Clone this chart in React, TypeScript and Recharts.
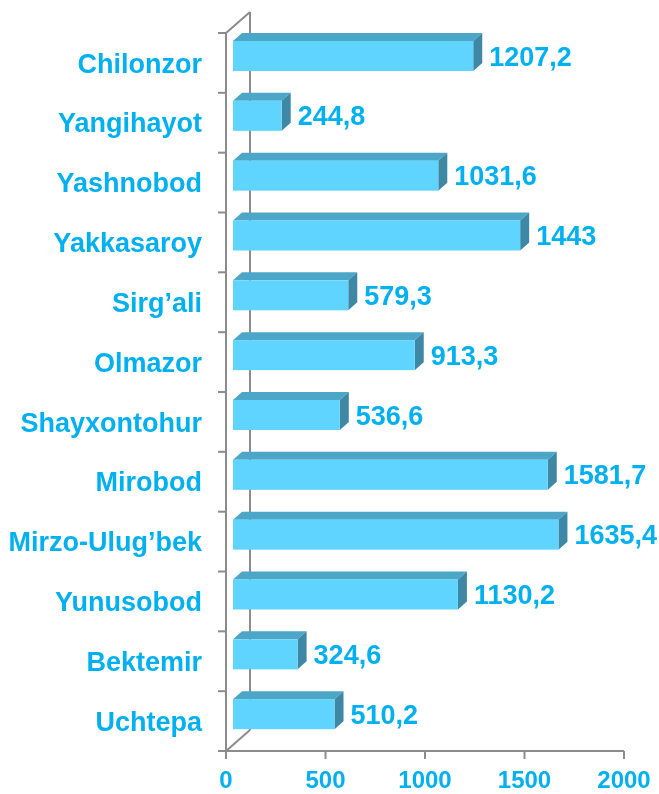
import { BarChart, Bar, XAxis, YAxis, CartesianGrid, LabelList } from "recharts";

const districts = [
  "Chilonzor",
  "Yangihayot",
  "Yashnobod",
  "Yakkasaroy",
  "Sirg’ali",
  "Olmazor",
  "Shayxontohur",
  "Mirobod",
  "Mirzo-Ulug’bek",
  "Yunusobod",
  "Bektemir",
  "Uchtepa",
];
const values = [1207.2, 244.8, 1031.6, 1443, 579.3, 913.3, 536.6, 1581.7, 1635.4, 1130.2, 324.6, 510.2];
const xTicks = [0, 500, 1000, 1500, 2000];

const data = districts.map((name, i) => ({ name, value: values[i] }));

const CYAN = "#00B0F0";
const GREY = "#8c8c8c";
const FONT = '"Liberation Sans", Arial, sans-serif';

// pseudo-3D geometry (px)
const BAR_SHIFT = 7; // bars stand a little back from the front plane
const BAR_DX = 9;
const BAR_DY = 8;
const WALL_DX = 24;
const WALL_DY = 21;
const TICK = 8;
const Y_MARGIN = 16;

const formatValue = (v: number) => String(v).replace(".", ",");

function Bar3D(props: any) {
  const { x, y, width, height } = props;
  if (width == null || height == null) return null;
  const fx = x + BAR_SHIFT;
  const fy = y - BAR_SHIFT;
  const r = fx + width;
  const top = `${fx},${fy} ${fx + BAR_DX},${fy - BAR_DY} ${r + BAR_DX},${fy - BAR_DY} ${r},${fy}`;
  const side = `${r},${fy} ${r + BAR_DX},${fy - BAR_DY} ${r + BAR_DX},${fy + height - BAR_DY} ${r},${fy + height}`;
  return (
    <g>
      <polygon points={top} fill="#4BA6C7" />
      <polygon points={side} fill="#3E88A6" />
      <rect x={fx} y={fy} width={width} height={height} fill="#5ED4FE" />
    </g>
  );
}

function renderValue(props: any) {
  const box = props.viewBox ?? props;
  const { x, y, width, height } = box;
  return (
    <text
      x={x + width + BAR_SHIFT + 16}
      y={y + height / 2 - BAR_SHIFT}
      dy="0.355em"
      fill={CYAN}
      fontFamily={FONT}
      fontWeight="bold"
      fontSize={27}
    >
      {formatValue(props.value)}
    </text>
  );
}

function CategoryTick(props: any) {
  const { x, y, payload, index, visibleTicksCount } = props;
  const half = payload?.offset || 29.9;
  const axisX = x + TICK + Y_MARGIN;
  const last = index === (visibleTicksCount ?? districts.length) - 1;
  return (
    <g>
      <line x1={axisX - TICK} x2={axisX} y1={y - half} y2={y - half} stroke={GREY} strokeWidth={2} />
      {last && <line x1={axisX - TICK} x2={axisX} y1={y + half} y2={y + half} stroke={GREY} strokeWidth={2} />}
      <text x={x} y={y} dy="0.355em" textAnchor="end" fill={CYAN} fontFamily={FONT} fontWeight="bold" fontSize={27}>
        {payload.value}
      </text>
    </g>
  );
}

// back wall of the 3D frame, drawn under the bars
function renderWall(p: any) {
  if (p.index !== 0) return <g key={p.key} />;
  const { x1, y1, y2 } = p;
  const bx = x1 + WALL_DX;
  return (
    <g key={p.key} stroke={GREY} strokeWidth={2} fill="none">
      <line x1={x1} y1={y1} x2={bx} y2={y1 - WALL_DY} />
      <line x1={bx} y1={y1 - WALL_DY} x2={bx} y2={y2 - WALL_DY} />
      <line x1={x1} y1={y2} x2={bx} y2={y2 - WALL_DY} />
    </g>
  );
}

export default function App() {
  return (
    <div style={{ position: "fixed", left: 0, top: 0 }}>
      <BarChart
        width={659}
        height={794}
        data={data}
        layout="vertical"
        barSize={30}
        margin={{ top: 33, right: 35, bottom: 0, left: 0 }}
      >
        <CartesianGrid horizontal={false} vertical={renderWall} />
        <XAxis
          type="number"
          domain={[0, 2000]}
          ticks={xTicks}
          height={43}
          tickSize={TICK}
          tickMargin={12}
          axisLine={{ stroke: GREY, strokeWidth: 2 }}
          tickLine={{ stroke: GREY, strokeWidth: 2 }}
          tick={{ fill: CYAN, fontSize: 24, fontWeight: "bold", fontFamily: FONT }}
        />
        <YAxis
          type="category"
          dataKey="name"
          width={226}
          interval={0}
          tickSize={TICK}
          tickMargin={Y_MARGIN}
          tickLine={false}
          axisLine={{ stroke: GREY, strokeWidth: 2 }}
          tick={<CategoryTick />}
        />
        <Bar dataKey="value" shape={<Bar3D />} isAnimationActive={false}>
          <LabelList dataKey="value" content={renderValue} />
        </Bar>
      </BarChart>
    </div>
  );
}
